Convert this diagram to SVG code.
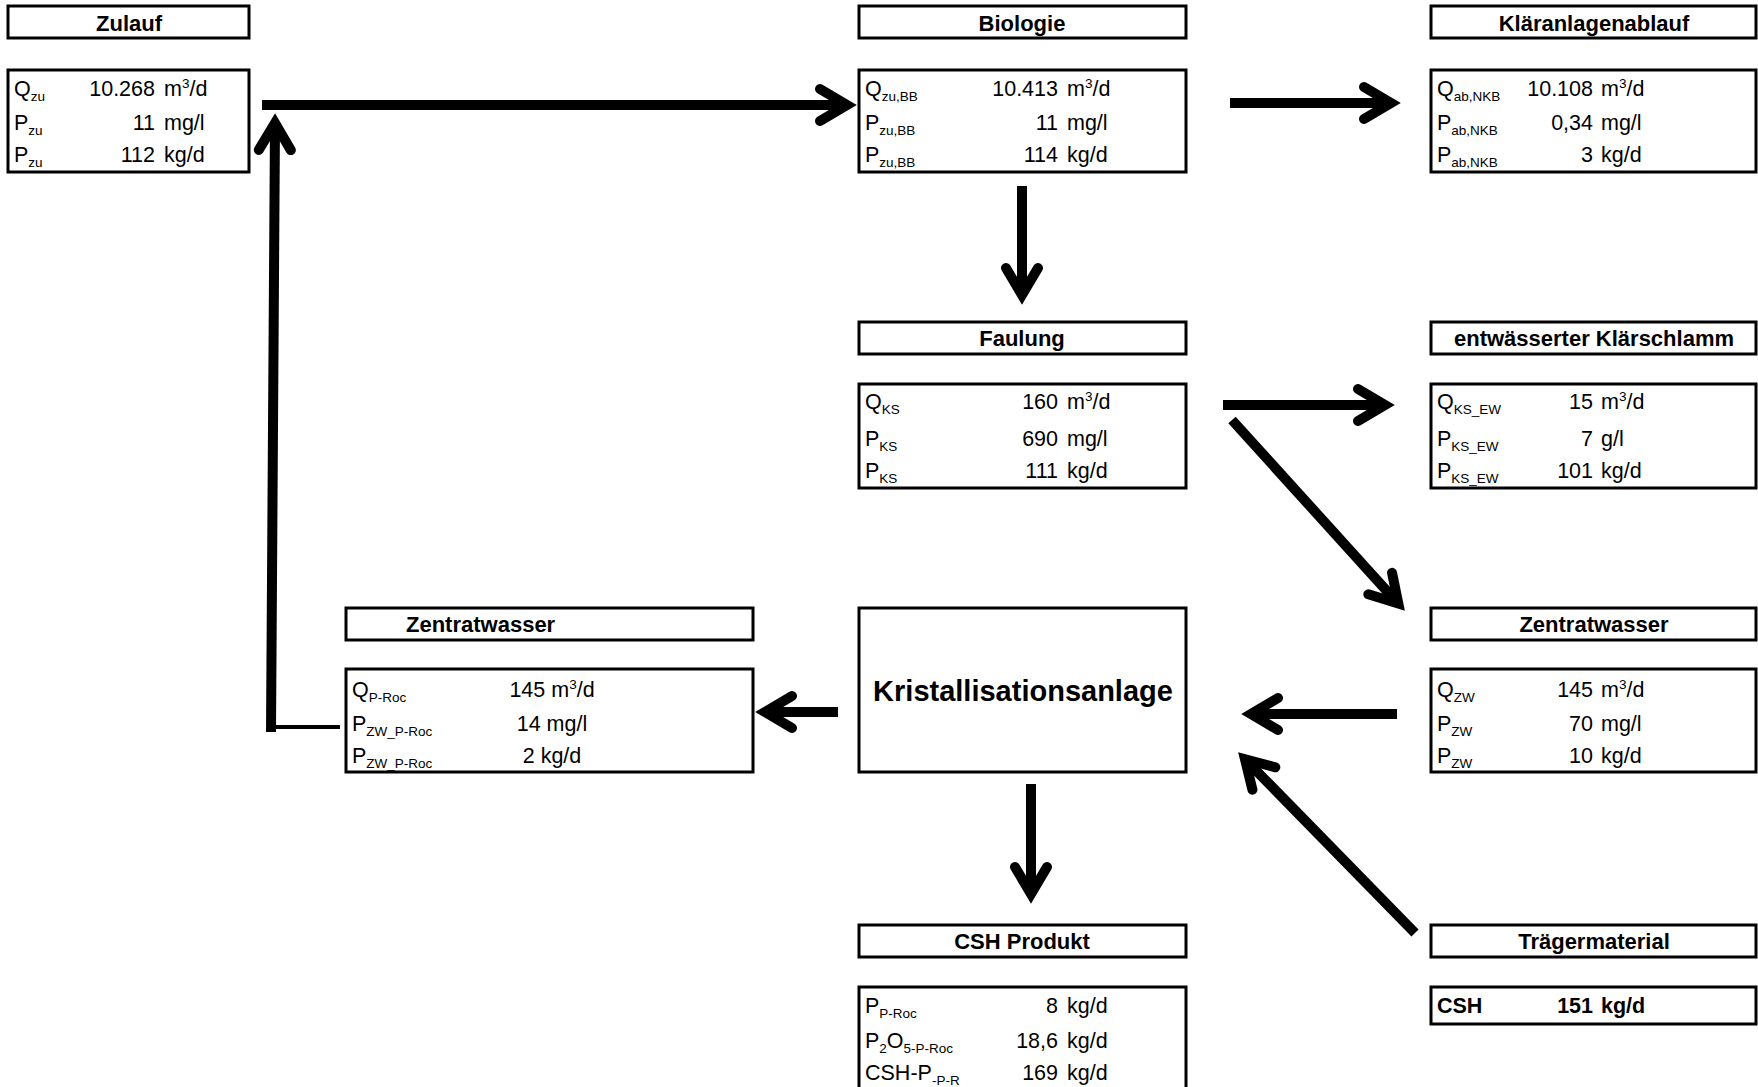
<svg xmlns="http://www.w3.org/2000/svg" width="1758" height="1087" viewBox="0 0 1758 1087">
<style>
text{font-family:"Liberation Sans",Arial,sans-serif;fill:#000}
.box{fill:#fff;stroke:#000;stroke-width:3}
.h{font-size:22px;font-weight:bold;text-anchor:middle}
.d{font-size:21.5px}
.n{font-size:21.5px;text-anchor:end}
.c{font-size:21.5px;text-anchor:middle}
.b{font-weight:bold}
.s{font-size:13.5px}
.big{font-size:29px;font-weight:bold;text-anchor:middle}
.con{fill:none;stroke:#000;stroke-width:10;stroke-linecap:butt}
.thin{fill:none;stroke:#000;stroke-width:4}
</style>
<defs>
<marker id="arr" markerUnits="userSpaceOnUse" viewBox="-45 -28 60 56" markerWidth="60" markerHeight="56" refX="0" refY="0" orient="auto" overflow="visible">
<path d="M-27,-16 L0,0 L-27,16" fill="none" stroke="#000" stroke-width="10" stroke-linecap="round" stroke-linejoin="miter"/>
</marker>
</defs>
<rect width="1758" height="1087" fill="#fff"/>

<g id="connectors">
<path class="con" d="M262,105 H847" marker-end="url(#arr)"/>
<path class="con" d="M271,732 L275,123" marker-end="url(#arr)"/>
<path class="thin" d="M272,727 H340"/>
<path class="con" d="M1230,103 H1391" marker-end="url(#arr)"/>
<path class="con" d="M1022,186 V295" marker-end="url(#arr)"/>
<path class="con" d="M1223,405 H1385" marker-end="url(#arr)"/>
<path class="con" d="M1232,420 L1398.3,603.6" marker-end="url(#arr)"/>
<path class="con" d="M838,712 H765" marker-end="url(#arr)"/>
<path class="con" d="M1397,714 H1251" marker-end="url(#arr)"/>
<path class="con" d="M1031,784 V894" marker-end="url(#arr)"/>
<path class="con" d="M1415,933 L1245,759.2" marker-end="url(#arr)"/>
</g>

<g id="zulauf">
<rect class="box" x="8" y="6" width="241" height="32"/>
<text class="h" x="129" y="31">Zulauf</text>
<rect class="box" x="8" y="70" width="241" height="102"/>
<text class="d" x="14" y="96">Q<tspan class="s" dy="5">zu</tspan></text>
<text class="n" x="155" y="96">10.268</text>
<text class="d" x="164" y="96">m<tspan class="s" dy="-8">3</tspan><tspan dy="8">/d</tspan></text>
<text class="d" x="14" y="130">P<tspan class="s" dy="5">zu</tspan></text>
<text class="n" x="155" y="130">11</text>
<text class="d" x="164" y="130">mg/l</text>
<text class="d" x="14" y="162">P<tspan class="s" dy="5">zu</tspan></text>
<text class="n" x="155" y="162">112</text>
<text class="d" x="164" y="162">kg/d</text>
</g>

<g id="biologie">
<rect class="box" x="859" y="6" width="327" height="32"/>
<text class="h" x="1022" y="31">Biologie</text>
<rect class="box" x="859" y="70" width="327" height="102"/>
<text class="d" x="865" y="96">Q<tspan class="s" dy="5">zu,BB</tspan></text>
<text class="n" x="1058" y="96">10.413</text>
<text class="d" x="1067" y="96">m<tspan class="s" dy="-8">3</tspan><tspan dy="8">/d</tspan></text>
<text class="d" x="865" y="130">P<tspan class="s" dy="5">zu,BB</tspan></text>
<text class="n" x="1058" y="130">11</text>
<text class="d" x="1067" y="130">mg/l</text>
<text class="d" x="865" y="162">P<tspan class="s" dy="5">zu,BB</tspan></text>
<text class="n" x="1058" y="162">114</text>
<text class="d" x="1067" y="162">kg/d</text>
</g>

<g id="klaeranlagenablauf">
<rect class="box" x="1431" y="6" width="325" height="32"/>
<text class="h" x="1594" y="31">Kläranlagenablauf</text>
<rect class="box" x="1431" y="70" width="325" height="102"/>
<text class="d" x="1437" y="96">Q<tspan class="s" dy="5">ab,NKB</tspan></text>
<text class="n" x="1593" y="96">10.108</text>
<text class="d" x="1601" y="96">m<tspan class="s" dy="-8">3</tspan><tspan dy="8">/d</tspan></text>
<text class="d" x="1437" y="130">P<tspan class="s" dy="5">ab,NKB</tspan></text>
<text class="n" x="1593" y="130">0,34</text>
<text class="d" x="1601" y="130">mg/l</text>
<text class="d" x="1437" y="162">P<tspan class="s" dy="5">ab,NKB</tspan></text>
<text class="n" x="1593" y="162">3</text>
<text class="d" x="1601" y="162">kg/d</text>
</g>

<g id="faulung">
<rect class="box" x="859" y="322" width="327" height="32"/>
<text class="h" x="1022" y="346">Faulung</text>
<rect class="box" x="859" y="384" width="327" height="104"/>
<text class="d" x="865" y="409">Q<tspan class="s" dy="5">KS</tspan></text>
<text class="n" x="1058" y="409">160</text>
<text class="d" x="1067" y="409">m<tspan class="s" dy="-8">3</tspan><tspan dy="8">/d</tspan></text>
<text class="d" x="865" y="446">P<tspan class="s" dy="5">KS</tspan></text>
<text class="n" x="1058" y="446">690</text>
<text class="d" x="1067" y="446">mg/l</text>
<text class="d" x="865" y="478">P<tspan class="s" dy="5">KS</tspan></text>
<text class="n" x="1058" y="478">111</text>
<text class="d" x="1067" y="478">kg/d</text>
</g>

<g id="klaerschlamm">
<rect class="box" x="1431" y="322" width="325" height="32"/>
<text class="h" x="1594" y="346">entwässerter Klärschlamm</text>
<rect class="box" x="1431" y="384" width="325" height="104"/>
<text class="d" x="1437" y="409">Q<tspan class="s" dy="5">KS_EW</tspan></text>
<text class="n" x="1593" y="409">15</text>
<text class="d" x="1601" y="409">m<tspan class="s" dy="-8">3</tspan><tspan dy="8">/d</tspan></text>
<text class="d" x="1437" y="446">P<tspan class="s" dy="5">KS_EW</tspan></text>
<text class="n" x="1593" y="446">7</text>
<text class="d" x="1601" y="446">g/l</text>
<text class="d" x="1437" y="478">P<tspan class="s" dy="5">KS_EW</tspan></text>
<text class="n" x="1593" y="478">101</text>
<text class="d" x="1601" y="478">kg/d</text>
</g>

<g id="zentratwasser-rechts">
<rect class="box" x="1431" y="608" width="325" height="32"/>
<text class="h" x="1594" y="632">Zentratwasser</text>
<rect class="box" x="1431" y="669" width="325" height="103"/>
<text class="d" x="1437" y="697">Q<tspan class="s" dy="5">ZW</tspan></text>
<text class="n" x="1593" y="697">145</text>
<text class="d" x="1601" y="697">m<tspan class="s" dy="-8">3</tspan><tspan dy="8">/d</tspan></text>
<text class="d" x="1437" y="731">P<tspan class="s" dy="5">ZW</tspan></text>
<text class="n" x="1593" y="731">70</text>
<text class="d" x="1601" y="731">mg/l</text>
<text class="d" x="1437" y="763">P<tspan class="s" dy="5">ZW</tspan></text>
<text class="n" x="1593" y="763">10</text>
<text class="d" x="1601" y="763">kg/d</text>
</g>

<g id="kristallisationsanlage">
<rect class="box" x="859" y="608" width="327" height="164"/>
<text class="big" x="1023" y="701">Kristallisationsanlage</text>
</g>

<g id="zentratwasser-links">
<rect class="box" x="346" y="608" width="407" height="32"/>
<text class="h" x="406" y="632" style="text-anchor:start">Zentratwasser</text>
<rect class="box" x="346" y="669" width="407" height="103"/>
<text class="d" x="352" y="697">Q<tspan class="s" dy="5">P-Roc</tspan></text>
<text class="c" x="552" y="697">145 m<tspan class="s" dy="-8">3</tspan><tspan dy="8">/d</tspan></text>
<text class="d" x="352" y="731">P<tspan class="s" dy="5">ZW_P-Roc</tspan></text>
<text class="c" x="552" y="731">14 mg/l</text>
<text class="d" x="352" y="763">P<tspan class="s" dy="5">ZW_P-Roc</tspan></text>
<text class="c" x="552" y="763">2 kg/d</text>
</g>

<g id="csh-produkt">
<rect class="box" x="859" y="925" width="327" height="32"/>
<text class="h" x="1022" y="949">CSH Produkt</text>
<rect class="box" x="859" y="987" width="327" height="110"/>
<text class="d" x="865" y="1013">P<tspan class="s" dy="5">P-Roc</tspan></text>
<text class="n" x="1058" y="1013">8</text>
<text class="d" x="1067" y="1013">kg/d</text>
<text class="d" x="865" y="1048">P<tspan class="s" dy="5">2</tspan><tspan dy="-5">O</tspan><tspan class="s" dy="5">5-P-Roc</tspan></text>
<text class="n" x="1058" y="1048">18,6</text>
<text class="d" x="1067" y="1048">kg/d</text>
<text class="d" x="865" y="1080">CSH-P<tspan class="s" dy="5">-P-R</tspan></text>
<text class="n" x="1058" y="1080">169</text>
<text class="d" x="1067" y="1080">kg/d</text>
</g>

<g id="traegermaterial">
<rect class="box" x="1431" y="925" width="325" height="32"/>
<text class="h" x="1594" y="949">Trägermaterial</text>
<rect class="box" x="1431" y="987" width="325" height="37"/>
<text class="d b" x="1437" y="1013">CSH</text>
<text class="n b" x="1593" y="1013">151</text>
<text class="d b" x="1601" y="1013">kg/d</text>
</g>
</svg>
